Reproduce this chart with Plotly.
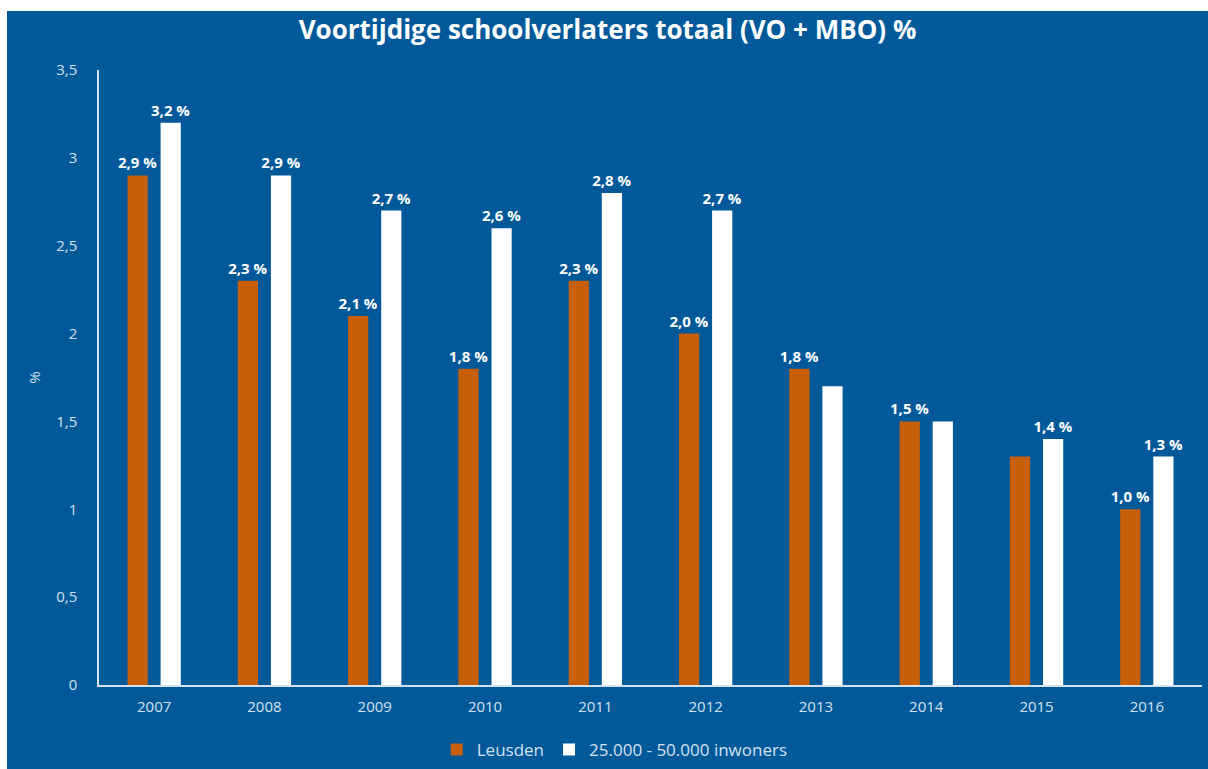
import plotly.graph_objects as go

years = ["2007", "2008", "2009", "2010", "2011", "2012", "2013", "2014", "2015", "2016"]
leusden = [2.9, 2.3, 2.1, 1.8, 2.3, 2.0, 1.8, 1.5, 1.3, 1.0]
reference = [3.2, 2.9, 2.7, 2.6, 2.8, 2.7, 1.7, 1.5, 1.4, 1.3]
hidden_leusden = {"2015"}
hidden_reference = {"2013", "2014"}

series_names = ["Leusden", "25.000 - 50.000 inwoners"]
title_text = "Voortijdige schoolverlaters totaal (VO + MBO) %"

BG = "#01599A"
ORANGE = "#C8600A"
WHITE = "#FFFFFF"
TICK = "#D3E2EE"
FONT = "Open Sans"


def labels(vals, hidden):
    return ["" if y in hidden else f"{v:.1f}".replace(".", ",") + " %" for y, v in zip(years, vals)]


fig = go.Figure()
for name, vals, hidden, color in [
    (series_names[0], leusden, hidden_leusden, ORANGE),
    (series_names[1], reference, hidden_reference, WHITE),
]:
    fig.add_trace(go.Bar(
        x=years, y=vals, name=name,
        marker=dict(color=color, line=dict(width=0)),
        text=labels(vals, hidden),
        textposition="outside",
        constraintext="none",
        cliponaxis=False,
        outsidetextfont=dict(family=FONT, size=15, color=WHITE, weight="bold"),
        hoverinfo="x+y",
    ))

fig.update_layout(
    width=1201, height=758,
    paper_bgcolor=BG, plot_bgcolor=BG,
    margin=dict(l=92, r=6, t=59, b=84, autoexpand=False),
    barmode="group", bargap=0.40, bargroupgap=0.39,
    separators=", ",
    font=dict(family=FONT, color=TICK, size=15),
    title=dict(text=title_text, x=0.5, xref="container", xanchor="center",
               y=1 - 19 / 758, yref="container", yanchor="middle",
               font=dict(family=FONT, size=26, color=WHITE, weight="bold")),
    xaxis=dict(showline=True, linecolor=TICK, linewidth=2, showgrid=False,
               ticks="", tickfont=dict(size=15, color=TICK), ticklabelstandoff=7),
    yaxis=dict(range=[0, 3.5], dtick=0.5, showline=True, linecolor=TICK, linewidth=1.5,
               showgrid=False, zeroline=False, ticks="",
               tickfont=dict(size=15, color=TICK), ticklabelstandoff=17,
               title=dict(text="%", standoff=12, font=dict(size=15, color=TICK))),
    legend=dict(orientation="h", xref="container", x=0.506, xanchor="center",
                yref="container", y=19 / 758, yanchor="middle",
                font=dict(size=17, color=TICK), itemwidth=30,
                bgcolor="rgba(0,0,0,0)"),
    showlegend=True,
)

fig.write_html(
    "out.html",
    post_script="document.body.style.margin='11px 0 0 7px';document.body.style.overflow='hidden';",
)
